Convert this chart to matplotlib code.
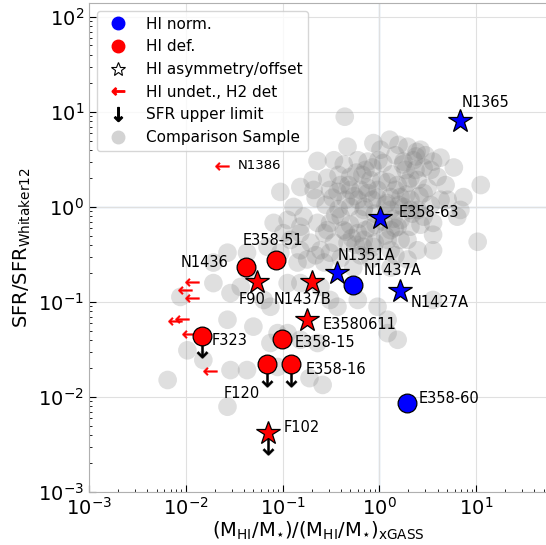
import matplotlib
matplotlib.use("Agg")
import matplotlib.pyplot as plt
from matplotlib.lines import Line2D
import numpy as np

plt.rcParams['mathtext.default'] = 'regular'
plt.rcParams['font.family'] = ['DejaVu Sans']

# ---------------- data ----------------
# Comparison sample (xGASS-like)
comp_x = [0.44, 0.23, 0.47, 0.87, 1.28, 1.58, 1.96, 2.43, 3.0, 4.3, 5.9, 3.6, 0.34, 0.43, 0.6,
          0.76, 0.98, 1.1, 1.78, 2.26, 2.87, 3.4, 0.205, 0.29, 0.38, 0.5, 0.67, 0.81, 1.22, 1.55,
          1.96, 2.49, 3.16, 4.0, 0.21, 0.22, 0.37, 0.5, 0.6, 0.76, 0.96, 1.31, 1.66, 2.1, 2.87,
          4.3, 5.1, 7.4, 11.2, 10.4, 6.9, 6.4, 0.5, 0.69, 1.31, 1.78, 2.49, 2.87, 3.6, 1.55,
          2.1, 3.6, 0.4, 0.31, 0.23, 0.153, 0.27, 0.43, 0.6, 0.69, 1.22, 1.96, 2.49, 1.31, 0.87,
          0.47, 0.195, 0.31, 0.153, 0.095, 0.31, 0.13, 0.165, 0.113, 0.081, 0.102, 0.153, 0.29,
          0.247, 0.34, 0.18, 0.27, 0.143, 0.095, 0.07, 0.043, 0.027, 0.0193, 0.54, 0.81, 1.31,
          1.96, 3.6, 0.0193, 0.029, 0.0088, 0.037, 0.113, 0.153, 0.075, 0.064, 0.247, 0.31, 0.37,
          0.96, 1.22, 1.55, 1.22, 3.6, 0.027, 0.05, 0.089, 0.075, 0.113, 0.153, 0.23, 0.0104,
          0.0152, 0.029, 0.043, 0.089, 0.19, 0.26, 0.0065, 0.027, 0.6, 0.043, 0.92, 1.16, 0.64,
          1.47, 1.66,
          0.45, 0.64, 0.85, 1.47, 1.87, 2.37, 1.47, 1.03, 0.72, 0.4, 0.28, 0.35, 0.5, 0.72, 1.31,
          1.66, 0.57, 0.4, 0.22, 0.153, 0.121, 2.67, 2.1, 3.4, 4.85, 2.67,
          0.55, 0.7, 0.9, 1.1, 1.4, 0.8, 0.62, 0.95, 1.2, 0.75, 1.05, 1.35, 0.58, 0.85, 1.6,
          1.9, 2.2, 0.45, 0.52, 0.68, 0.9, 1.15, 1.45, 0.38, 0.33, 0.48, 1.75, 2.1, 2.6, 2.4]
comp_y = [8.9, 3.05, 4.3, 4.7, 5.1, 4.5, 4.3, 3.8, 3.5, 3.3, 2.6, 3.0, 3.1, 2.8, 3.1,
          3.0, 3.1, 2.9, 3.0, 3.1, 2.6, 2.45, 1.92, 2.02, 2.17, 2.07, 2.17, 1.92, 1.83, 1.7,
          1.79, 1.92, 1.58, 2.07, 1.51, 1.24, 1.44, 1.51, 1.19, 1.4, 1.51, 1.27, 1.27, 1.19, 1.4,
          1.19, 1.19, 1.27, 1.7, 0.43, 0.93, 0.79, 1.0, 0.93, 0.93, 1.0, 0.93, 0.79, 0.68, 0.62,
          0.62, 0.51, 0.79, 0.68, 0.68, 0.62, 0.53, 0.57, 0.53, 0.45, 0.45, 0.45, 0.35, 0.35, 0.38,
          0.42, 0.42, 0.33, 1.62, 1.44, 1.51, 1.0, 0.79, 0.73, 0.68, 0.53, 0.53, 0.57,
          0.35, 0.42, 0.28, 0.26, 0.26, 0.33, 0.38, 0.33, 0.33, 0.26, 0.23, 0.28, 0.23,
          0.28, 0.35, 0.158, 0.124, 0.113, 0.144, 0.158, 0.158, 0.089, 0.105, 0.144, 0.105, 0.089,
          0.089, 0.065, 0.04, 0.047, 0.105, 0.065, 0.055, 0.047, 0.037, 0.047, 0.04, 0.037, 0.031,
          0.0245, 0.0192, 0.0192, 0.0207, 0.0158, 0.0134, 0.0151, 0.0079, 0.105, 0.217, 0.65, 1.05,
          0.31, 0.31, 0.73,
          1.19, 1.51, 1.19, 1.51, 2.45, 2.45, 3.5, 4.0, 2.45, 1.7, 1.05, 0.82, 0.65, 0.57, 0.57,
          0.45, 0.40, 0.29, 0.31, 0.35, 0.45, 0.65, 0.93, 1.05, 1.7, 4.0,
          1.3, 1.0, 0.85, 0.7, 0.75, 0.6, 0.75, 1.25, 1.1, 1.6, 1.9, 2.2, 2.3, 2.6, 1.05,
          1.35, 0.85, 0.55, 0.47, 0.38, 0.42, 0.5, 0.6, 0.95, 1.25, 1.7, 2.8, 2.0, 1.3, 3.4]

# Fornax galaxies
gal_names = ['N1365', 'E358-63', 'N1351A', 'N1437A', 'N1427A', 'E358-60',
             'N1436', 'E358-51', 'F90', 'N1437B', 'E3580611', 'F323',
             'E358-15', 'F120', 'E358-16', 'F102']
gal_x = [6.8, 1.03, 0.37, 0.54, 1.62, 1.92,
         0.042, 0.085, 0.054, 0.20, 0.18, 0.0146,
         0.098, 0.069, 0.122, 0.071]
gal_y = [8.0, 0.77, 0.20, 0.15, 0.13, 0.0086,
         0.233, 0.277, 0.163, 0.163, 0.065, 0.044,
         0.041, 0.0222, 0.0222, 0.0042]
gal_class = ['norm', 'norm', 'norm', 'norm', 'norm', 'norm',
             'def', 'def', 'def', 'def', 'def', 'def',
             'def', 'def', 'def', 'def']
gal_asym = [True, True, True, False, True, False,
            False, False, True, True, True, False,
            False, False, False, True]
gal_sfr_ul = [False, False, False, False, False, False,
              False, False, False, False, False, True,
              False, True, True, True]

# HI undetected, H2 detected (HI upper limits)
undet_names = ['N1386', '', '', '', '', '', '', '']
undet_x = [0.0237, 0.0115, 0.0098, 0.0117, 0.0078, 0.0092, 0.0109, 0.018]
undet_y = [2.7, 0.163, 0.134, 0.110, 0.063, 0.066, 0.046, 0.0188]

# ---------------- style ----------------
label_offsets = {
    'N1365': (1.4, 13.7, 'left'), 'E358-63': (13, 3.6, 'left'),
    'N1351A': (0, 13, 'left'), 'N1437A': (7.2, 10.8, 'left'),
    'N1427A': (8, -8, 'left'), 'E358-60': (8.6, 3.6, 'left'),
    'N1436': (-13, 3.6, 'right'), 'E358-51': (-2, 13.7, 'center'),
    'F90': (-3, -13, 'center'), 'N1437B': (-6.5, -13, 'center'),
    'E3580611': (10.8, -3.6, 'left'), 'F323': (7.2, -3.6, 'left'),
    'E358-15': (9.4, -2.9, 'left'), 'F120': (-5, -21, 'right'),
    'E358-16': (10.8, -3.6, 'left'), 'F102': (11.5, 3.6, 'left'),
}
colors = {'norm': 'blue', 'def': 'red'}

fig = plt.figure(figsize=(5.46, 5.45), dpi=100)
ax = fig.add_axes([0.163, 0.0972, 0.840, 0.8973])
ax.set_xscale('log')
ax.set_yscale('log')
ax.set_xlim(1e-3, 55)
ax.set_ylim(1e-3, 140)

ax.grid(True, which='major', color='#e0e0e0', lw=0.8, zorder=0)
ax.set_axisbelow(True)
ax.axvline(1, color='#9cc3e0', lw=0.9, zorder=0.5)
ax.axhline(1, color='#9cc3e0', lw=0.9, zorder=0.5)

ax.scatter(comp_x, comp_y, s=180, color='grey', alpha=0.25, edgecolors='none', zorder=1)

# upper limits in SFR
for x, y, ul in zip(gal_x, gal_y, gal_sfr_ul):
    if ul:
        ax.plot([x], [y * 0.74], ls='', marker=r'$\downarrow$', color='black',
                markersize=14, markeredgewidth=0.3, zorder=2)

# HI undetected arrows
ax.plot(undet_x, undet_y, ls='', marker=r'$\leftarrow$', color='red', markersize=10,
        markeredgewidth=0.3, zorder=2)
for n, x, y in zip(undet_names, undet_x, undet_y):
    if n:
        ax.annotate(n, (x, y), xytext=(11.5, 0), textcoords='offset points',
                    ha='left', va='center', fontsize=9.5, zorder=5)

for n, x, y, c, a in zip(gal_names, gal_x, gal_y, gal_class, gal_asym):
    if a:
        ax.plot([x], [y], ls='', marker='*', markersize=17.5, markerfacecolor=colors[c],
                markeredgecolor='black', markeredgewidth=0.9, zorder=4)
    else:
        ax.plot([x], [y], ls='', marker='o', markersize=13.5, markerfacecolor=colors[c],
                markeredgecolor='black', markeredgewidth=0.9, zorder=4)
    dx, dy, ha = label_offsets[n]
    ax.annotate(n, (x, y), xytext=(dx, dy), textcoords='offset points',
                ha=ha, va='center', fontsize=10.5, zorder=5)

ax.set_xlabel(r'$(M_{HI}/M_{\star})/(M_{HI}/M_{\star})_{xGASS}$', fontsize=14, labelpad=1)
ax.set_ylabel(r'SFR/SFR$_{Whitaker12}$', fontsize=14)
ax.tick_params(which='both', direction='in', labelsize=14, colors='black')
ax.tick_params(which='major', length=5)
ax.tick_params(which='minor', length=2.5)
for s in ax.spines.values():
    s.set_color('#b0b0b0')

handles = [
    Line2D([], [], ls='', marker='o', color='blue', markersize=9, label='HI norm.'),
    Line2D([], [], ls='', marker='o', color='red', markersize=9, label='HI def.'),
    Line2D([], [], ls='', marker='*', markerfacecolor='white', markeredgecolor='black',
           markeredgewidth=0.8, markersize=10, label='HI asymmetry/offset'),
    Line2D([], [], ls='', marker=r'$\leftarrow$', color='red', markersize=9,
           label='HI undet., H2 det'),
    Line2D([], [], ls='', marker=r'$\downarrow$', color='black', markersize=10,
           label='SFR upper limit'),
    Line2D([], [], ls='', marker='o', color='lightgrey', markersize=9,
           label='Comparison Sample'),
]
ax.legend(handles=handles, loc='upper left', fontsize=11, framealpha=0.8)

fig.savefig('out.png', dpi=100)
